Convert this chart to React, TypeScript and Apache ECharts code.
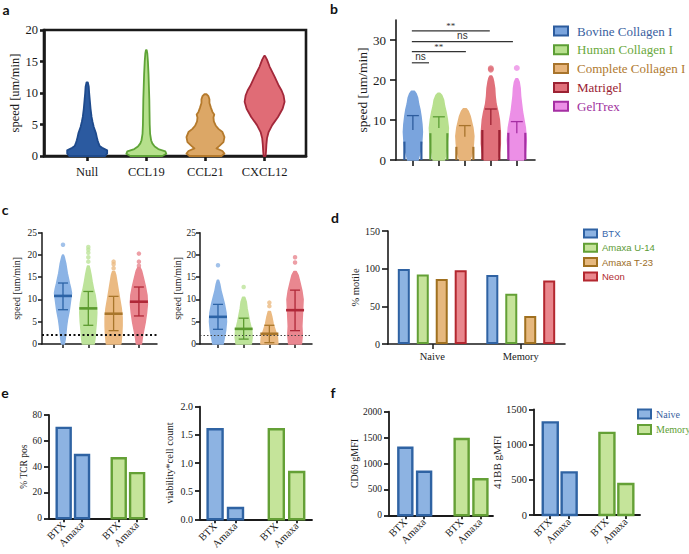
import React, { useEffect, useRef } from 'react';
import * as echarts from 'echarts';

const SERIF = '"Liberation Serif", "Times New Roman", serif';
const SANS = '"Liberation Sans", Arial, sans-serif';
const INK = '#1a1a1a';

// ---------- Panel a : violin profiles [speed, relative width]
const aCategories = ['Null', 'CCL19', 'CCL21', 'CXCL12'];
const aNull = [[0, 0.9], [0.4, 1.0], [0.9, 1.0], [1.3, 0.75], [1.6, 0.62], [2, 0.57], [2.5, 0.52], [3, 0.48], [3.6, 0.44], [4.6, 0.33], [5.4, 0.27], [6.2, 0.22], [7.5, 0.17], [8.9, 0.13], [10, 0.1], [11, 0.08], [11.7, 0.03]];
const aCCL19 = [[0, 0.8], [0.35, 1.0], [0.75, 0.95], [1.1, 0.6], [1.5, 0.42], [2, 0.3], [2.5, 0.24], [3.5, 0.19], [5, 0.17], [7, 0.16], [9, 0.15], [11, 0.13], [13, 0.11], [15, 0.08], [16.3, 0.05], [16.8, 0.02]];
const aCCL21 = [[0, 0.8], [0.4, 0.95], [0.8, 0.85], [1.2, 0.55], [1.6, 0.7], [2.2, 0.9], [3, 0.95], [3.8, 0.85], [4.3, 0.65], [4.8, 0.52], [5.5, 0.42], [6.1, 0.4], [6.6, 0.44], [7.0, 0.35], [7.6, 0.28], [8.4, 0.2], [9.0, 0.2], [9.5, 0.15], [9.8, 0.05]];
const aCXCL12 = [[0, 0.05], [0.7, 0.07], [1.8, 0.09], [2.8, 0.12], [3.8, 0.2], [4.9, 0.38], [6.2, 0.67], [7.5, 0.9], [8.6, 1.0], [9.6, 0.95], [10.4, 0.85], [11.1, 0.72], [12.6, 0.5], [14.2, 0.25], [15.3, 0.12], [15.9, 0.02]];
const aProfiles = [aNull, aCCL19, aCCL21, aCXCL12];
const aFill = ['#2b5aa0', '#b6e08c', '#dca766', '#e06c76'];
const aStroke = ['#1e4a8c', '#5fa437', '#b57a2c', '#a3283a'];

// ---------- Panel b
const bNames = ['Bovine Collagen I', 'Human Collagen I', 'Complete Collagen I', 'Matrigel', 'GelTrex'];
const bBovine = [[0, 0.55], [1.5, 0.7], [3, 0.85], [5, 0.95], [7, 1.0], [9, 0.95], [11, 0.85], [12.5, 0.75], [14, 0.6], [15.5, 0.5], [16.5, 0.35], [17.2, 0.15]];
const bHuman = [[0, 0.6], [2, 0.75], [4, 0.85], [6, 0.95], [8, 1.0], [10, 0.9], [12, 0.75], [13.5, 0.6], [15, 0.5], [16.2, 0.3], [16.7, 0.1]];
const bComplete = [[0, 0.55], [2, 0.8], [4, 0.9], [6, 0.95], [8, 0.85], [9.5, 0.7], [11, 0.55], [12.2, 0.35], [12.8, 0.15]];
const bMatrigel = [[0, 0.7], [2, 0.9], [4, 1.0], [7, 1.0], [10, 0.9], [12, 0.75], [14, 0.55], [16, 0.45], [18, 0.4], [19.5, 0.3], [20.5, 0.2], [21, 0.1]];
const bGelTrex = [[0, 0.7], [2, 0.9], [5, 1.0], [8, 0.9], [10, 0.75], [12, 0.6], [14, 0.5], [16, 0.4], [18, 0.35], [19.5, 0.25], [20.3, 0.1]];
const bProfiles = [bBovine, bHuman, bComplete, bMatrigel, bGelTrex];
const bOutliers = [[], [], [], [22.6, 22.9], [23.0]];
const bBar = [4.6, 6.7, 3.3, 7.5, 6.8];
const bErrLo = [7.5, 8.0, 5.8, 8.75, 6.7];
const bErrHi = [11.1, 10.8, 8.6, 12.75, 9.6];
const bSigFrom = [-0.04, -0.04, -0.04, -0.04];
const bSigTo = [2.96, 3.85, 2.04, 0.62];
const bSigY = [32.3, 29.6, 27.1, 24.3];
const bSigText = ['**', 'ns', '**', 'ns'];
const bYTicks = [0, 10, 20, 30];
const bFill = ['#7aa4dd', '#b8e08e', '#e7b47a', '#e0707a', '#ec8fe6'];
const bDark = ['#2d5c9e', '#5c9e35', '#a8742c', '#9c2233', '#a52fa3'];
const bText = ['#3a5fa0', '#6aa83c', '#b07a30', '#9a2232', '#a0309e'];

// ---------- Panel c
const cLeftBlue = [[0, 0.15], [1, 0.25], [2.4, 0.33], [4, 0.42], [5.4, 0.52], [7.6, 0.74], [9.9, 0.9], [11.4, 1.0], [12.5, 0.9], [13.6, 0.76], [15.9, 0.5], [18.1, 0.32], [19.6, 0.13], [20, 0.05]];
const cLeftGreen = [[0, 0.7], [1.5, 0.8], [3, 0.85], [5, 0.95], [7, 1.0], [9, 0.95], [11, 0.8], [12.5, 0.6], [14, 0.45], [15.5, 0.32], [16.5, 0.22], [17.5, 0.1]];
const cLeftTan = [[0, 0.85], [2, 0.95], [4, 1.0], [6, 1.0], [8, 0.9], [10, 0.72], [12, 0.55], [14, 0.38], [15.5, 0.25], [16.3, 0.12]];
const cLeftRed = [[0, 0.3], [1.5, 0.4], [3, 0.55], [5, 0.75], [7, 0.9], [9, 1.0], [11, 0.95], [13, 0.75], [15, 0.5], [16.5, 0.3], [17.2, 0.12]];
const cRightBlue = [[0, 0.6], [1.5, 0.75], [3, 0.9], [5, 1.0], [7, 0.95], [9, 0.75], [10.5, 0.55], [12, 0.35], [13.5, 0.2], [14.3, 0.08]];
const cRightGreen = [[0, 0.9], [1.5, 1.0], [3, 0.95], [5, 0.7], [6.5, 0.55], [8, 0.4], [9.5, 0.3], [10.5, 0.12]];
const cRightTan = [[0, 1.0], [1.5, 0.95], [3, 0.7], [4.5, 0.45], [6, 0.3], [7.3, 0.12]];
const cRightRed = [[0, 0.75], [2, 0.85], [4, 0.8], [6, 0.85], [8, 0.9], [10, 0.95], [12, 0.8], [14, 0.55], [15.5, 0.35], [16.3, 0.12]];
const cLeftProfiles = [cLeftBlue, cLeftGreen, cLeftTan, cLeftRed];
const cRightProfiles = [cRightBlue, cRightGreen, cRightTan, cRightRed];
const cLeftOutliers = [[22.3], [18.5, 19.5, 20.5, 21.2, 21.8], [17.0, 17.9, 18.5], [17.6, 18.5, 20.3]];
const cRightOutliers = [[17.7], [12.8], [8.5, 9.3], [18.3, 19.5]];
const cLeftMean = [10.8, 8.0, 6.8, 9.5];
const cLeftLo = [7.7, 4.2, 3.0, 6.3];
const cLeftHi = [13.7, 11.8, 10.7, 12.8];
const cRightMean = [6.1, 3.4, 2.3, 7.6];
const cRightLo = [3.3, 1.1, 0.3, 3.0];
const cRightHi = [8.9, 5.8, 4.2, 12.1];
const cThreshold = 2;
const cFill = ['#8bb3e5', '#bde39a', '#ebba82', '#e98790'];
const cDark = ['#2c63a6', '#5b9a2f', '#a9762b', '#b02838'];

// ---------- Panel d
const dCategories = ['Naive', 'Memory'];
const dSeriesNames = ['BTX', 'Amaxa U-14', 'Amaxa T-23', 'Neon'];
const dBTX = [99.5, 91.6];
const dU14 = [92.4, 66.7];
const dT23 = [86.2, 37.3];
const dNeon = [97.8, 84.4];
const dValues = [dBTX, dU14, dT23, dNeon];
const dFill = ['#8db3e2', '#c6e39a', '#e6b87e', '#e9878d'];
const dDark = ['#2f62a3', '#63a035', '#a0701f', '#b3272f'];
const dText = ['#3a6aad', '#5c9a35', '#9c6c1e', '#b02a30'];

// ---------- Panels e and f
const efLabels = ['BTX', 'Amaxa', 'BTX', 'Amaxa'];
const efSlots = [0, 1, 3, 4];
const naiveSlots = [0, 1];
const memorySlots = [3, 4];
const eTcrNaive = [70, 49];
const eTcrMemory = [46.5, 35];
const eViaNaive = [1.6, 0.2];
const eViaMemory = [1.6, 0.84];
const fCd69Naive = [1305, 842];
const fCd69Memory = [1473, 695];
const f41bbNaive = [1315, 605];
const f41bbMemory = [1165, 440];
const naiveFill = '#8db3e2';
const naiveDark = '#2f63a3';
const memoryFill = '#c5e49a';
const memoryDark = '#64a036';

// ---------- helpers
function profileSeries(name: string, axis: number, items: any[], half: number, lw: number, z = 2) {
  return {
    type: 'custom', name, xAxisIndex: axis, yAxisIndex: axis, silent: true, z,
    data: items.map((it) => [it.idx, it.prof[it.prof.length - 1][0]]),
    renderItem: (params: any, api: any) => {
      const it = items[params.dataIndex];
      const right: number[][] = [];
      const left: number[][] = [];
      it.prof.forEach(([v, d]: number[]) => {
        const c = api.coord([it.idx, v]);
        right.push([c[0] + d * half, c[1]]);
        left.push([c[0] - d * half, c[1]]);
      });
      return {
        type: 'polygon',
        shape: { points: right.concat(left.reverse()) },
        style: { fill: it.fill, stroke: it.stroke, lineWidth: lw, lineJoin: 'round' },
      };
    },
  };
}

function outlierSeries(axis: number, lists: number[][], colors: string[], size: number, markLine?: any) {
  const data: any[] = [];
  lists.forEach((l, i) => l.forEach((v) => data.push({ value: [i, v], itemStyle: { color: colors[i] } })));
  const s: any = { type: 'scatter', xAxisIndex: axis, yAxisIndex: axis, symbolSize: size, silent: true, z: 3, data };
  if (markLine) s.markLine = markLine;
  return s;
}

function meanSdSeries(axis: number, means: number[], lo: number[], hi: number[], colors: string[]) {
  return {
    type: 'custom', xAxisIndex: axis, yAxisIndex: axis, silent: true, z: 5,
    data: means.map((m, i) => [i, m, lo[i], hi[i]]),
    renderItem: (params: any, api: any) => {
      const i = api.value(0);
      const pm = api.coord([i, api.value(1)]);
      const pl = api.coord([i, api.value(2)]);
      const ph = api.coord([i, api.value(3)]);
      const col = colors[params.dataIndex];
      const st = { stroke: col, lineWidth: 1.3 };
      return {
        type: 'group',
        children: [
          { type: 'line', shape: { x1: pl[0], y1: pl[1], x2: ph[0], y2: ph[1] }, style: st },
          { type: 'line', shape: { x1: pl[0] - 5, y1: pl[1], x2: pl[0] + 5, y2: pl[1] }, style: st },
          { type: 'line', shape: { x1: ph[0] - 5, y1: ph[1], x2: ph[0] + 5, y2: ph[1] }, style: st },
          { type: 'line', shape: { x1: pm[0] - 9, y1: pm[1], x2: pm[0] + 9, y2: pm[1] }, style: { stroke: col, lineWidth: 2.6 } },
        ],
      };
    },
  };
}

function bBarEdges() {
  return {
    type: 'custom', xAxisIndex: 1, yAxisIndex: 1, silent: true, z: 4,
    data: bBar.map((v, i) => [i, v]),
    renderItem: (params: any, api: any) => {
      const i = api.value(0);
      const p0 = api.coord([i, 0]);
      const p1 = api.coord([i, api.value(1)]);
      const st = { stroke: bDark[params.dataIndex], lineWidth: 2.2 };
      const h = 8.5;
      return {
        type: 'group',
        children: [
          { type: 'line', shape: { x1: p0[0] - h, y1: p0[1], x2: p1[0] - h, y2: p1[1] }, style: st },
          { type: 'line', shape: { x1: p0[0] + h, y1: p0[1], x2: p1[0] + h, y2: p1[1] }, style: st },
        ],
      };
    },
  };
}

function bErrors() {
  return {
    type: 'custom', xAxisIndex: 1, yAxisIndex: 1, silent: true, z: 5,
    data: bErrLo.map((v, i) => [i, v, bErrHi[i]]),
    renderItem: (params: any, api: any) => {
      const i = api.value(0);
      const pl = api.coord([i, api.value(1)]);
      const ph = api.coord([i, api.value(2)]);
      const st = { stroke: bDark[params.dataIndex], lineWidth: 1.3 };
      return {
        type: 'group',
        children: [
          { type: 'line', shape: { x1: pl[0], y1: pl[1], x2: ph[0], y2: ph[1] }, style: st },
          { type: 'line', shape: { x1: ph[0] - 6, y1: ph[1], x2: ph[0] + 6, y2: ph[1] }, style: st },
        ],
      };
    },
  };
}

function bSignificance() {
  return {
    type: 'custom', xAxisIndex: 1, yAxisIndex: 1, silent: true, z: 5,
    data: bSigFrom.map((f, i) => [f, bSigTo[i], bSigY[i]]),
    renderItem: (params: any, api: any) => {
      const a = api.coord([api.value(0), api.value(2)]);
      const b = api.coord([api.value(1), api.value(2)]);
      const txt = bSigText[params.dataIndex];
      const star = txt === '**';
      return {
        type: 'group',
        children: [
          { type: 'line', shape: { x1: a[0], y1: a[1], x2: b[0], y2: b[1] }, style: { stroke: '#333', lineWidth: 1.2 } },
          {
            type: 'text', x: (a[0] + b[0]) / 2, y: a[1] - (star ? 0 : 1),
            style: { text: txt, fill: '#333', fontFamily: star ? SERIF : SANS, fontSize: star ? 9 : 10, align: 'center', verticalAlign: 'bottom' },
          },
        ],
      };
    },
  };
}

function efBars(name: string, axis: number, slots: number[], values: number[], fill: string, stroke: string, w: number) {
  return {
    type: 'custom', name, xAxisIndex: axis, yAxisIndex: axis, silent: true, z: 3,
    itemStyle: { color: fill, borderColor: stroke },
    data: slots.map((s, i) => [s, values[i]]),
    renderItem: (params: any, api: any) => {
      const x = api.value(0);
      const p0 = api.coord([x, 0]);
      const p1 = api.coord([x, api.value(1)]);
      return {
        type: 'rect',
        shape: { x: p0[0] - w / 2, y: p1[1], width: w, height: p0[1] - p1[1] },
        style: { fill, stroke, lineWidth: 2.4 },
      };
    },
  };
}

const plain = (v: number) => String(v);

function yAx(gridIndex: number, o: any) {
  const custom = o.custom ? { customValues: o.custom } : {};
  return {
    type: 'value', gridIndex, min: o.min, max: o.max, interval: o.interval,
    name: o.name, nameLocation: 'middle', nameGap: o.nameGap,
    nameTextStyle: { fontFamily: SERIF, fontSize: o.nameSize, color: INK },
    splitLine: { show: false },
    axisLine: { show: true, onZero: false, lineStyle: { color: INK, width: o.lw } },
    axisTick: { show: true, length: o.tickLen, lineStyle: { color: INK, width: o.lw }, ...custom },
    axisLabel: { fontFamily: SERIF, fontSize: o.labelSize, color: INK, margin: o.margin, formatter: o.formatter || plain, ...custom },
  };
}

function xAx(gridIndex: number, o: any) {
  return {
    type: 'value', gridIndex, min: o.min, max: o.max,
    splitLine: { show: false },
    axisLine: { show: true, onZero: false, lineStyle: { color: INK, width: o.lw } },
    axisTick: { show: true, length: o.tickLen, lineStyle: { color: INK, width: o.lw }, customValues: o.slots },
    axisLabel: {
      show: !!o.labels, customValues: o.slots, fontFamily: SERIF, fontSize: o.labelSize, color: INK,
      margin: o.margin, rotate: o.rotate || 0,
      formatter: (v: number) => (o.labels ? o.labels[o.slots.indexOf(Math.round(v))] || '' : ''),
    },
  };
}

function buildOption() {
  const grid = (left: number, top: number, width: number, height: number, extra: any = {}) => ({
    left, top, width, height, containLabel: false, outerBoundsMode: 'none', ...extra,
  });
  const fmt1 = (v: number) => v.toFixed(1);
  const letters = [['a', 6, 9], ['b', 334, 8], ['c', 5, 209], ['d', 335, 217], ['e', 5, 392], ['f', 333, 392]];

  return {
    animation: false,
    backgroundColor: '#ffffff',
    grid: [
      grid(44, 30, 262, 126, { show: true, borderColor: INK, borderWidth: 2.6, backgroundColor: 'transparent' }),
      grid(396, 20, 139, 140),
      grid(42, 232.7, 115, 111.3),
      grid(200, 232.7, 112, 111.3),
      grid(388, 231, 177, 113),
      grid(49, 415, 98, 103.3),
      grid(200, 406.7, 112, 112.6),
      grid(389, 411.7, 104, 103.6),
      grid(534, 409.3, 106, 105.7),
    ],
    xAxis: [
      xAx(0, { min: -0.73, max: 3.7, slots: [0, 1, 2, 3], labels: aCategories, lw: 2.6, tickLen: 5, labelSize: 12.5, margin: 9 }),
      xAx(1, { min: -0.65, max: 4.7, slots: [0, 1, 2, 3, 4], lw: 1.6, tickLen: 6 }),
      xAx(2, { min: -0.83, max: 3.715, slots: [0, 1, 2, 3], lw: 1.5, tickLen: 4 }),
      xAx(3, { min: -0.7, max: 3.66, slots: [0, 1, 2, 3], lw: 1.5, tickLen: 4 }),
      {
        type: 'category', gridIndex: 4, data: dCategories,
        axisLine: { show: true, lineStyle: { color: INK, width: 1.6 } },
        axisTick: { show: true, alignWithLabel: true, length: 5, lineStyle: { color: INK, width: 1.5 } },
        axisLabel: { fontFamily: SERIF, fontSize: 10.5, color: INK, margin: 7 },
      },
      xAx(5, { min: -0.8, max: 4.54, slots: efSlots, labels: efLabels, lw: 1.8, tickLen: 4, labelSize: 10.5, margin: 5, rotate: 45 }),
      xAx(6, { min: -0.74, max: 4.75, slots: efSlots, labels: efLabels, lw: 1.8, tickLen: 4, labelSize: 10.5, margin: 5, rotate: 45 }),
      xAx(7, { min: -0.87, max: 4.67, slots: efSlots, labels: efLabels, lw: 1.8, tickLen: 4, labelSize: 10.5, margin: 5, rotate: 45 }),
      xAx(8, { min: -0.86, max: 4.75, slots: efSlots, labels: efLabels, lw: 1.8, tickLen: 4, labelSize: 10.5, margin: 5, rotate: 45 }),
    ],
    yAxis: [
      yAx(0, { min: 0, max: 20, interval: 5, name: 'speed [um/min]', nameGap: 20, nameSize: 12.5, lw: 2.6, tickLen: 4, labelSize: 12.5, margin: 6 }),
      yAx(1, { min: 0, max: 35, custom: bYTicks, name: 'speed [um/min]', nameGap: 26, nameSize: 13.5, lw: 1.6, tickLen: 6, labelSize: 13, margin: 10 }),
      yAx(2, { min: 0, max: 25, interval: 5, name: 'speed [um/min]', nameGap: 21, nameSize: 10, lw: 1.5, tickLen: 4, labelSize: 9.5, margin: 5 }),
      yAx(3, { min: 0, max: 25, interval: 5, name: 'speed [um/min]', nameGap: 13, nameSize: 10, lw: 1.5, tickLen: 4, labelSize: 9.5, margin: 4 }),
      yAx(4, { min: 0, max: 150, interval: 50, name: '% motile', nameGap: 25, nameSize: 10.5, lw: 1.6, tickLen: 6, labelSize: 10, margin: 8 }),
      yAx(5, { min: 0, max: 80, interval: 20, name: '% TCR pos', nameGap: 17, nameSize: 9.5, lw: 1.8, tickLen: 5, labelSize: 9.5, margin: 7 }),
      yAx(6, { min: 0, max: 2, interval: 0.5, formatter: fmt1, name: 'viability*cell count', nameGap: 25, nameSize: 10.5, lw: 1.8, tickLen: 5, labelSize: 10, margin: 7 }),
      yAx(7, { min: 0, max: 2000, interval: 500, name: 'CD69 gMFI', nameGap: 29, nameSize: 10, lw: 1.8, tickLen: 5, labelSize: 9.5, margin: 7 }),
      yAx(8, { min: 0, max: 1500, interval: 500, name: '41BB gMFI', nameGap: 28, nameSize: 11, lw: 1.8, tickLen: 5, labelSize: 10.5, margin: 7 }),
    ],
    legend: [
      {
        orient: 'vertical', left: 553, top: 24.5, padding: 0, itemWidth: 14, itemHeight: 9, itemGap: 5.8,
        selectedMode: false, icon: 'rect',
        textStyle: { fontFamily: SERIF, fontSize: 13, padding: [0, 0, 0, 4] },
        data: bNames.map((n, i) => ({ name: n, itemStyle: { color: bFill[i], borderColor: bDark[i], borderWidth: 2 }, textStyle: { color: bText[i] } })),
      },
      {
        orient: 'vertical', left: 583, top: 228.5, padding: 0, itemWidth: 13, itemHeight: 8, itemGap: 4.3,
        selectedMode: false, icon: 'rect',
        textStyle: { fontFamily: SANS, fontSize: 9.5 },
        data: dSeriesNames.map((n, i) => ({ name: n, itemStyle: { color: dFill[i], borderColor: dDark[i], borderWidth: 2 }, textStyle: { color: dText[i] } })),
      },
      {
        orient: 'vertical', left: 637, top: 408.5, padding: 0, itemWidth: 13, itemHeight: 9, itemGap: 4.5,
        selectedMode: false, icon: 'rect',
        textStyle: { fontFamily: SERIF, fontSize: 10 },
        data: [
          { name: 'Naive', itemStyle: { color: naiveFill, borderColor: naiveDark, borderWidth: 2 }, textStyle: { color: '#3a5fa0' } },
          { name: 'Memory', itemStyle: { color: memoryFill, borderColor: memoryDark, borderWidth: 2 }, textStyle: { color: '#5e9e34' } },
        ],
      },
    ],
    graphic: letters.map(([t, x, y]) => ({
      type: 'text', x, y,
      style: { text: t, fontFamily: 'Lato, "DejaVu Sans", sans-serif', fontWeight: 'bold', fontSize: 14, fill: '#111', align: 'center', verticalAlign: 'middle' },
    })),
    series: [
      // a
      profileSeries('a violins', 0, aProfiles.map((p, i) => ({ idx: i, prof: p, fill: aFill[i], stroke: aStroke[i] })), 20, 1.8),
      // b
      ...bProfiles.map((p, i) => profileSeries(bNames[i], 1, [{ idx: i, prof: p, fill: bFill[i], stroke: bFill[i] }], 9.5, 1.5)),
      outlierSeries(1, bOutliers, bFill, 6),
      bBarEdges(),
      bErrors(),
      bSignificance(),
      // c
      profileSeries('c left', 2, cLeftProfiles.map((p, i) => ({ idx: i, prof: p, fill: cFill[i], stroke: cFill[i] })), 8.5, 1.5),
      outlierSeries(2, cLeftOutliers, cFill, 4.5, {
        silent: true, symbol: ['none', 'none'], label: { show: false },
        lineStyle: { type: [2, 2.5], color: '#111', width: 2 }, data: [{ yAxis: cThreshold }],
      }),
      meanSdSeries(2, cLeftMean, cLeftLo, cLeftHi, cDark),
      profileSeries('c right', 3, cRightProfiles.map((p, i) => ({ idx: i, prof: p, fill: cFill[i], stroke: cFill[i] })), 8.5, 1.5),
      outlierSeries(3, cRightOutliers, cFill, 4.5, {
        silent: true, symbol: ['none', 'none'], label: { show: false },
        lineStyle: { type: [1.5, 2], color: '#444', width: 1.2 }, data: [{ yAxis: cThreshold }],
      }),
      meanSdSeries(3, cRightMean, cRightLo, cRightHi, cDark),
      // d
      ...dSeriesNames.map((n, i) => ({
        type: 'bar', name: n, xAxisIndex: 4, yAxisIndex: 4, data: dValues[i], barWidth: 12, barGap: '58%', silent: true,
        itemStyle: { color: dFill[i], borderColor: dDark[i], borderWidth: 2 },
      })),
      // e
      efBars('Naive', 5, naiveSlots, eTcrNaive, naiveFill, naiveDark, 14),
      efBars('Memory', 5, memorySlots, eTcrMemory, memoryFill, memoryDark, 14),
      efBars('Naive', 6, naiveSlots, eViaNaive, naiveFill, naiveDark, 15),
      efBars('Memory', 6, memorySlots, eViaMemory, memoryFill, memoryDark, 15),
      // f
      efBars('Naive', 7, naiveSlots, fCd69Naive, naiveFill, naiveDark, 14),
      efBars('Memory', 7, memorySlots, fCd69Memory, memoryFill, memoryDark, 14),
      efBars('Naive', 8, naiveSlots, f41bbNaive, naiveFill, naiveDark, 15),
      efBars('Memory', 8, memorySlots, f41bbMemory, memoryFill, memoryDark, 15),
    ],
  };
}

export default function App() {
  const ref = useRef<HTMLDivElement>(null);
  useEffect(() => {
    if (!ref.current) return;
    const chart = echarts.init(ref.current, null, { renderer: 'svg' });
    chart.setOption(buildOption() as any);
    return () => chart.dispose();
  }, []);
  return <div ref={ref} style={{ position: 'absolute', left: 0, top: 0, width: 689, height: 554, background: '#fff' }} />;
}
